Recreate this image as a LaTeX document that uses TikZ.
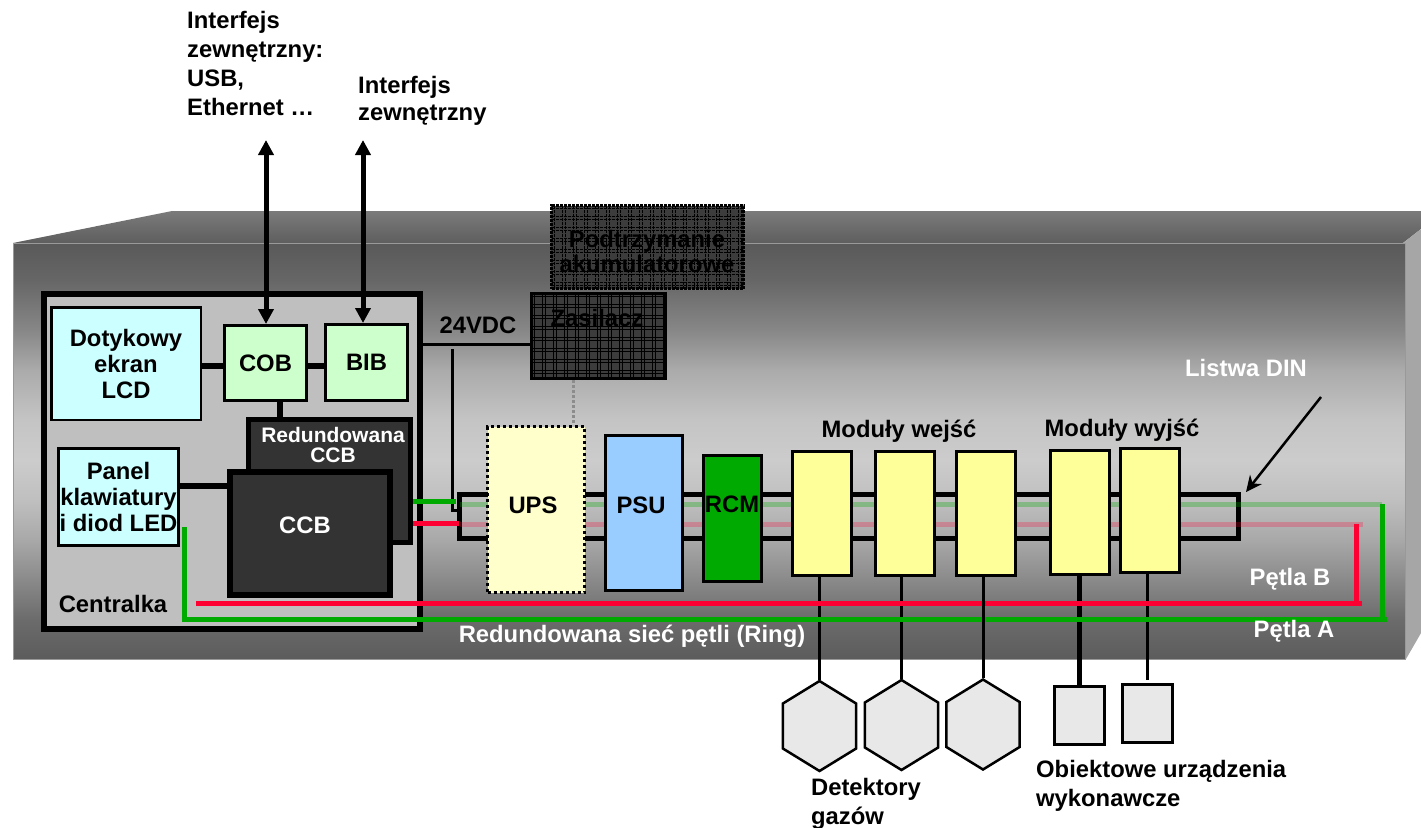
\documentclass[tikz,border=0pt]{standalone}
\usepackage{fontspec}
\setmainfont{Liberation Sans}
\usetikzlibrary{arrows.meta,positioning,calc,shapes.geometric}
\definecolor{lcdcyan}{HTML}{CCFFFF}
\definecolor{brdgreen}{HTML}{CCFFCC}
\definecolor{ccbdark}{HTML}{333333}
\definecolor{upscream}{HTML}{FFFFCC}
\definecolor{psublue}{HTML}{99CCFF}
\definecolor{rcmgreen}{HTML}{00AA00}
\definecolor{modyellow}{HTML}{FFFF99}
\definecolor{loopred}{HTML}{FF0033}
\definecolor{hatchgray}{HTML}{3C3C3C}
\pgfdeclareverticalshading{wallshade}{100bp}{
  color(0bp)=(black!64); color(25bp)=(black!64); color(29.7bp)=(black!58);
  color(34.5bp)=(black!46); color(39.3bp)=(black!34); color(44.1bp)=(black!25);
  color(48.9bp)=(black!20); color(53.7bp)=(black!23); color(59.7bp)=(black!33);
  color(64.5bp)=(black!47); color(70.6bp)=(black!60); color(75bp)=(black!65);
  color(100bp)=(black!65)}

\begin{document}
\begin{tikzpicture}[
  x=1pt, y=-1pt,
  box/.style={draw, inner sep=0pt, align=center, line width=3pt,
              font=\fontsize{23.8}{26}\selectfont\bfseries},
  lab/.style={inner sep=0pt, align=center, font=\fontsize{23.8}{26}\selectfont\bfseries},
  toplab/.style={lab, align=left, font=\fontsize{23.8}{29}\selectfont\bfseries},
  wlab/.style={lab, text=white},
  modbox/.style={box, fill=modyellow, minimum width=59pt, minimum height=124pt},
  hexbox/.style={draw, regular polygon, regular polygon sides=6, shape border rotate=30,
                 fill=black!9, line width=2.5pt, inner sep=0pt, minimum size=90pt,
                 xscale=.94, transform shape},
  devbox/.style={box, fill=black!9, minimum width=50pt, minimum height=58pt},
  hatchbox/.style={box, fill=hatchgray, path picture={
      \foreach \k in {0,...,18}{
        \draw[line width=.9pt] ([xshift=\k*11pt]path picture bounding box.north west)
          -- ([xshift=\k*11pt]path picture bounding box.south west);
        \draw[line width=.9pt] ([xshift=\k*11pt+3pt]path picture bounding box.north west)
          -- ([xshift=\k*11pt+3pt]path picture bounding box.south west);
        \draw[line width=.9pt] ([yshift=-\k*11pt]path picture bounding box.north west)
          -- ([yshift=-\k*11pt]path picture bounding box.north east);
        \draw[line width=.9pt] ([yshift=-\k*11pt-3pt]path picture bounding box.north west)
          -- ([yshift=-\k*11pt-3pt]path picture bounding box.north east);
      }}},
  bus/.style={line width=6pt},
  wire/.style={line width=3pt},
  arr/.style={{Triangle[length=15pt,width=15pt]}-{Triangle[length=15pt,width=15pt]}, line width=5pt},
  redloop/.style={line width=5pt, loopred},
  greenloop/.style={line width=5pt, rcmgreen}
]
  \useasboundingbox (0,0) rectangle (1421,827);

  \shade[top color=black!52, bottom color=black!63] (13,243) -- (172,211) -- (1421,211) -- (1421,229) -- (1403,243) -- cycle;
  \fill[black!35] (1403,243) -- (1421,229) -- (1421,633) -- (1406,659) -- cycle;
  \shade[shading=wallshade, draw=black!40, line width=.6pt] (13,243) rectangle (1405,659);

  \node[box, fill=black!25, line width=6pt, minimum width=376pt, minimum height=335pt] (centr) at (232,461.5) {};
  \node[box, fill=lcdcyan, line width=2.5pt, minimum width=149.5pt, minimum height=112.5pt] (lcd) at (126,363.5) {Dotykowy\\ekran\\LCD};
  \node[box, fill=brdgreen, minimum width=82pt, minimum height=75pt] (cob) at (265.5,363) {COB};
  \node[box, fill=brdgreen, minimum width=82pt, minimum height=76pt] (bib) at (366.5,362.5) {BIB};
  \node[box, fill=ccbdark, line width=5pt, minimum width=162pt, minimum height=123pt] (rccb) at (329.5,481) {};
  \node[wlab, font=\fontsize{21}{20}\selectfont\bfseries] (rccblab) at (333,445) {Redundowana\\CCB};
  \node[box, fill=ccbdark, line width=6pt, minimum width=160pt, minimum height=123pt] (ccb) at (310,533.5) {};
  \node[wlab] (ccblab) at ([xshift=-5pt,yshift=8pt]ccb.center) {CCB};
  \node[box, fill=lcdcyan, minimum width=120pt, minimum height=97pt] (panel) at (118.5,497) {Panel\\klawiatury\\i diod LED};
  \node[lab] (centrlab) at (113,604) {Centralka};

  \draw[bus] (lcd.east |- 0,366) -- (cob.west |- 0,366);
  \draw[bus] (cob.east |- 0,366) -- (bib.west |- 0,366);
  \draw[bus] ([xshift=14.5pt]cob.south) -- ([xshift=14.5pt]cob.south |- rccb.north);
  \draw[bus] ([yshift=11pt]panel.east) -- ([yshift=11pt]panel.east -| ccb.west);

  \coordinate (cobup) at (266,140);
  \coordinate (bibup) at (363,140);
  \draw[arr] (cobup) -- (cobup |- cob.north);
  \draw[arr] (bibup) -- (bibup |- bib.north);
  \node[toplab, anchor=north west] (ifusb) at (187,11) {Interfejs\\zewnętrzny:\\USB,\\Ethernet …};
  \node[toplab, anchor=north west, font=\fontsize{23.8}{27}\selectfont\bfseries] (ifext) at (358,76) {Interfejs\\zewnętrzny};

  \node[hatchbox, densely dotted, minimum width=192pt, minimum height=83pt] (podt) at (647.5,247) {};
  \node[lab, font=\fontsize{23.8}{25}\selectfont\bfseries] (podtlab) at (647,251.5) {Podtrzymanie\\akumulatorowe};
  \node[hatchbox, minimum width=134pt, minimum height=85pt] (zas) at (598.5,336) {};
  \node[lab] (zaslab) at (597,318) {Zasilacz};
  \node[lab] (dclab) at (478,325) {24VDC};

  \node[draw, line width=5pt, minimum width=779pt, minimum height=44pt] (rail) at (849,516.5) {};
  \coordinate (gtop) at (1382,504);
  \coordinate (gfade) at (460,504);
  \coordinate (rtop) at (1356,524);
  \coordinate (rfade) at (460,524);
  \coordinate (rfadeend) at (1363,524);
  \draw[greenloop, opacity=.3] (gfade) -- (gtop);
  \draw[redloop, opacity=.25] (rfade) -- (rfadeend);

  \node[box, fill=upscream, dash pattern=on 3pt off 3pt, minimum width=97pt, minimum height=166pt] (ups) at (536,509.5) {};
  \node[lab] (upslab) at (533,505) {UPS};
  \node[box, fill=psublue, minimum width=77pt, minimum height=155pt] (psu) at (644,513) {};
  \node[lab] (psulab) at (641,505) {PSU};
  \node[box, fill=rcmgreen, minimum width=58pt, minimum height=126pt] (rcm) at (732.5,518.5) {};
  \node[lab] (rcmlab) at (732,504) {RCM};
  \node[modbox] (in1) at (822,513) {};
  \node[modbox, right=21pt of in1] (in2) {};
  \node[modbox, right=19pt of in2, yshift=-.5pt] (in3) {};
  \node[modbox] (out1) at (1079.5,512.5) {};
  \node[modbox, right=8pt of out1, yshift=2pt] (out2) {};
  \node[lab] (inlab) at (899,431) {Moduły wejść};
  \node[lab] (outlab) at (1122,430) {Moduły wyjść};

  \draw[wire, draw=black!45, dotted] ([xshift=-25.5pt]zas.south) -- ([xshift=-25.5pt]zas.south |- ups.north);
  \draw[wire] ([yshift=-8pt]zas.west) -- ([yshift=-8pt]zas.west -| centr.east);
  \coordinate (dcin) at (452,349);
  \coordinate (dcrail) at (460,510);
  \draw[wire] (dcin) |- (dcrail);

  \node[hexbox] (hex1) at (819.5,726) {};
  \node[hexbox] (hex2) at (901.5,725) {};
  \node[hexbox] (hex3) at (983,724.5) {};
  \node[devbox] (dev1) at (1079.5,715) {};
  \node[devbox] (dev2) at (1147.5,713.5) {};
  \draw[wire] (hex1.north) -- (hex1.north |- in1.south);
  \draw[wire] (hex2.north) -- (hex2.north |- in2.south);
  \draw[line width=4.5pt] (dev1.north) -- (dev1.north |- out1.south);
  \draw[wire] ([yshift=3pt]dev2.north) -- (dev2.north |- out2.south);

  \coordinate (rstart) at (196,603);
  \coordinate (rend) at (1362,603);
  \coordinate (gpanel) at (184,527);
  \coordinate (gleft) at (182,619);
  \coordinate (gright) at (1387,619);
  \coordinate (gstub) at (456,501);
  \coordinate (rstub) at (459,523);
  \draw[redloop] (rstart) -- (rend);
  \draw[redloop] (rtop) -- (rtop |- rend);
  \draw[greenloop] (gleft) -- (gright);
  \draw[greenloop] (gpanel) -- (gpanel |- gleft);
  \draw[greenloop] (gtop) -- (gtop |- gright);
  \draw[greenloop] (gstub -| rccb.east) -- (gstub);
  \draw[redloop] (rstub -| rccb.east) -- (rstub);
  \draw[wire] (hex3.north) -- (hex3.north |- in3.south);

  \node[wlab] (dinlab) at (1246,368) {Listwa DIN};
  \coordinate (dinarrow) at (1321,397);
  \draw[-{Stealth[length=16pt,width=15pt]}, line width=2.5pt] (dinarrow) -- ([xshift=5pt]rail.north east);
  \node[wlab] (blab) at (1290,579) {Pętla B};
  \node[wlab] (alab) at (1294,631) {Pętla A};
  \node[wlab] (ringlab) at (632,636) {Redundowana sieć pętli (Ring)};
  \node[lab, align=left, font=\fontsize{23.8}{29}\selectfont\bfseries] (detlab) at (866,804) {Detektory\\gazów};
  \node[lab, align=left, font=\fontsize{23.8}{29}\selectfont\bfseries, anchor=north west] (devlab) at (1036,760) {Obiektowe urządzenia\\wykonawcze};
\end{tikzpicture}
\end{document}
